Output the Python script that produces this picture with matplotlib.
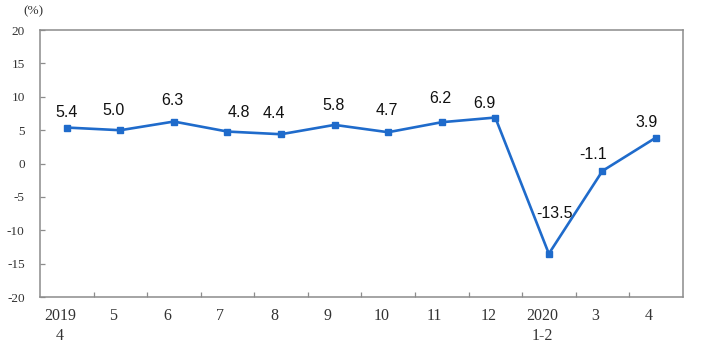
import matplotlib.pyplot as plt
import numpy as np

# monthly growth, % (2019-04 .. 2020-04)
months = ["2019\n4", "5", "6", "7", "8", "9", "10", "11", "12", "2020\n1-2", "3", "4"]
growth = [5.4, 5.0, 6.3, 4.8, 4.4, 5.8, 4.7, 6.2, 6.9, -13.5, -1.1, 3.9]
y_ticks = [-20, -15, -10, -5, 0, 5, 10, 15, 20]

# label offsets in points (dx, dy) from point to label centre, styling only
label_offsets = [(0, 11), (-5, 14), (-1, 15), (8, 14), (-5, 15), (-1, 14),
                 (-1, 16), (-1, 17), (-8, 10), (4, 29), (-7, 12), (-7, 11)]

LINE = "#1F6BCB"
SPINE = "#8C8C8C"
LABEL_NUDGE = 0.13  # category labels sit a bit left of centre in the original

fig = plt.figure(figsize=(7.01, 3.58), dpi=100)
ax = fig.add_axes([0.057, 0.170, 0.917, 0.746])

x = np.arange(len(months))
ax.plot(x, growth, color=LINE, linewidth=1.9, marker="s", markersize=4.2,
        markerfacecolor=LINE, markeredgecolor=LINE)

for xi, val, (dx, dy) in zip(x, growth, label_offsets):
    ax.annotate(f"{val:.1f}", (xi, val), xytext=(dx, dy), textcoords="offset points",
                ha="center", va="center", fontsize=11.5, family="Liberation Sans",
                color="#111111")

ax.set_xlim(-0.5, len(months) - 0.5)
ax.set_ylim(-20, 20)
ax.set_yticks(y_ticks)
ax.set_yticklabels([str(v) for v in y_ticks], family="Liberation Serif", fontsize=9.5)
ax.set_xticks(x - LABEL_NUDGE)
ax.set_xticklabels(months, family="Liberation Serif", fontsize=11.5, linespacing=1.3)
ax.set_xticks(np.arange(0.5, len(months) - 0.5, 1), minor=True)

ax.tick_params(axis="x", which="major", length=0, pad=8, colors="#333333")
ax.tick_params(axis="x", which="minor", direction="in", length=3.5, color=SPINE, width=0.9)
ax.tick_params(axis="y", direction="in", length=3.5, color=SPINE, width=0.9,
               pad=11, labelcolor="#333333")

for side in ["left", "bottom", "right", "top"]:
    ax.spines[side].set_color(SPINE)
    ax.spines[side].set_linewidth(1.1)

fig.text(33 / 701, 1 - 11 / 358, "(%)", ha="center", va="center",
         family="Liberation Serif", fontsize=9.5, color="#333333")

fig.savefig("out.png", dpi=100)
plt.close(fig)
